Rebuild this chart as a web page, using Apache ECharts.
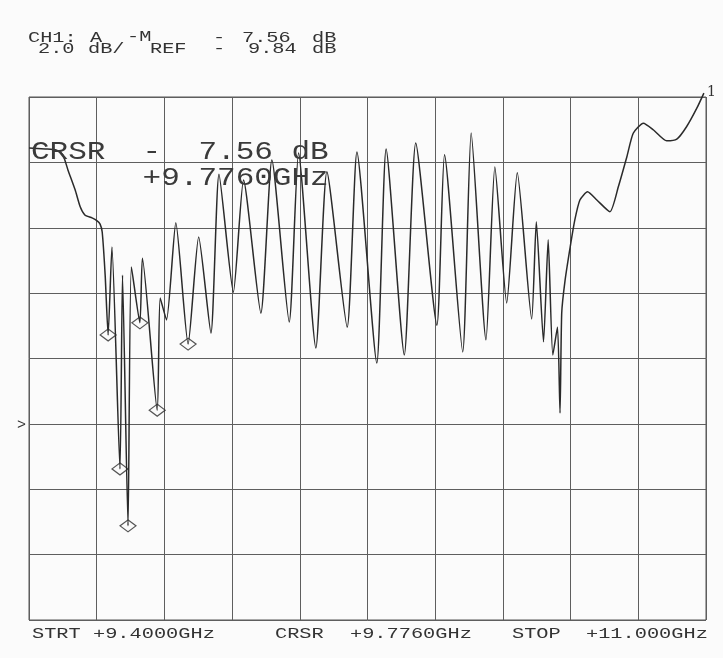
<!DOCTYPE html>
<html>
<head>
<meta charset="utf-8">
<title>CH1 A-M sweep 9.4 - 11.0 GHz</title>
<script src="https://cdn.jsdelivr.net/npm/echarts@6/dist/echarts.min.js"></script>
<style>
  html, body { margin: 0; padding: 0; background: #fbfbfb; }
  #chart { width: 723px; height: 658px; }
</style>
</head>
<body>
<div id="chart"></div>
<script>
// Swept response, channel 1 (A - M), 9.4 to 11.0 GHz, 2 dB per division.
const freqGHz = [
  9.400, 9.438, 9.464, 9.480, 9.492, 9.509, 9.521, 9.532, 9.549, 9.561,
  9.568, 9.573, 9.580, 9.587, 9.596, 9.615, 9.621, 9.634, 9.642, 9.662,
  9.668, 9.703, 9.710, 9.725, 9.747, 9.776, 9.801, 9.830, 9.849, 9.883,
  9.907, 9.948, 9.974, 10.015, 10.037, 10.078, 10.104, 10.152, 10.175, 10.222,
  10.244, 10.287, 10.314, 10.364, 10.382, 10.425, 10.445, 10.480, 10.501, 10.529,
  10.554, 10.588, 10.599, 10.616, 10.627, 10.638, 10.649, 10.655, 10.659, 10.667,
  10.679, 10.690, 10.702, 10.720, 10.742, 10.773, 10.793, 10.813, 10.828, 10.852,
  10.876, 10.907, 10.931, 10.954, 10.978, 10.995
];
const traceDb = [
  13.56, 13.53, 13.50, 13.35, 12.89, 12.28, 11.76, 11.51, 11.42, 11.33,
  11.23, 10.99, 9.67, 7.84, 10.53, 3.74, 9.67, 2.00, 9.92, 8.21,
  10.19, 5.54, 8.97, 8.30, 11.27, 7.56, 10.84, 7.90, 12.76, 9.15,
  12.58, 8.51, 13.19, 8.24, 13.41, 7.44, 12.83, 8.08, 13.44, 6.98,
  13.53, 7.23, 13.71, 8.14, 13.35, 7.32, 14.02, 7.69, 12.98, 8.82,
  12.80, 8.33, 11.30, 7.63, 10.75, 7.23, 8.08, 5.45, 8.51, 9.52,
  10.53, 11.36, 11.97, 12.22, 11.97, 11.61, 12.38, 13.29, 14.01, 14.32,
  14.11, 13.78, 13.83, 14.21, 14.77, 15.24
];

// Marker diamonds (the last one is the cursor)
const markerGHz = [9.587, 9.615, 9.634, 9.662, 9.703, 9.776];
const markerDb  = [7.84, 3.74, 2.00, 8.21, 5.54, 7.56];

// Display scale: top of screen and 2 dB per division over 8 divisions
const dbPerDiv = 2;
const topDb = 15.12;
const divisionsY = 8;
const divisionsX = 10;
const startGHz = 9.4;
const stopGHz = 11.0;

// Annotation texts
const headerLine1 = ['CH1:', 'A', '-M', '-', '7.56', 'dB'];
const headerLine2 = ['2.0', 'dB/', 'REF', '-', '9.84', 'dB'];
const cursorLine1 = 'CRSR  -  7.56 dB';
const cursorLine2 = '      +9.7760GHz';
const footer = ['STRT', '+9.4000GHz', 'CRSR', '+9.7760GHz', 'STOP', '+11.000GHz'];

const GRID = { left: 29, top: 97, width: 677, height: 523 };
const INK = '#333';
const MONO = '"Liberation Mono", "DejaVu Sans Mono", monospace';

function txt(str, x, y, size, sx, fill) {
  return {
    type: 'text',
    x: x, y: y,
    scaleX: sx || 1,
    z: 100,
    style: {
      text: str,
      font: size + 'px ' + MONO,
      fill: fill || INK,
      textAlign: 'left',
      textVerticalAlign: 'middle',
      verticalAlign: 'middle'
    }
  };
}

const h1x = [28, 90, 127, 213, 242, 312];
const h2x = [38, 88, 150, 213, 248, 312];
const fx = [32, 93, 275, 350, 512, 586];

const graphics = [];
headerLine1.forEach((s, i) => graphics.push(txt(s, h1x[i], i === 2 ? 37 : 38.5, 14, 1.45)));
headerLine2.forEach((s, i) => graphics.push(txt(s, h2x[i], 49.5, 14, 1.45)));
graphics.push(txt(cursorLine1, 31, 152, 25, 1.24, '#3a3a3a'));
graphics.push(txt(cursorLine2, 31, 178, 25, 1.24, '#3a3a3a'));
footer.forEach((s, i) => graphics.push(txt(s, fx[i], 634, 14, 1.45)));
graphics.push({
  type: 'text', x: 707, y: 92, z: 100,
  style: { text: '1', font: '14px "DejaVu Serif", "Liberation Serif", serif', fill: INK, textVerticalAlign: 'middle', verticalAlign: 'middle' }
});
// reference-level pointer at the left edge of the screen
graphics.push(txt('>', 17, 425, 15, 1));

const chart = echarts.init(document.getElementById('chart'), null, { renderer: 'canvas' });

const gridLine = { show: true, lineStyle: { color: '#5e5e5e', width: 1 } };

chart.setOption({
  backgroundColor: '#fbfbfb',
  animation: false,
  grid: Object.assign({ show: true, borderColor: '#555', borderWidth: 1, backgroundColor: 'transparent' }, GRID),
  xAxis: [
    { type: 'value', min: startGHz, max: stopGHz, show: false, splitLine: { show: false } },
    {
      type: 'value', min: 0, max: divisionsX, interval: 1, position: 'bottom',
      axisLine: { show: false }, axisTick: { show: false }, axisLabel: { show: false },
      splitLine: gridLine
    }
  ],
  yAxis: [
    { type: 'value', min: topDb - dbPerDiv * divisionsY, max: topDb, show: false, splitLine: { show: false } },
    {
      type: 'value', min: 0, max: divisionsY, interval: 1,
      axisLine: { show: false }, axisTick: { show: false }, axisLabel: { show: false },
      splitLine: gridLine
    }
  ],
  series: [
    {
      type: 'line',
      xAxisIndex: 0, yAxisIndex: 0,
      data: freqGHz.map((f, i) => [f, traceDb[i]]),
      showSymbol: false,
      smooth: 0.2,
      clip: false,
      lineStyle: { color: '#2a2a2a', width: 1.5 },
      z: 5
    },
    {
      type: 'scatter',
      xAxisIndex: 0, yAxisIndex: 0,
      data: markerGHz.map((f, i) => [f, markerDb[i]]),
      symbol: 'diamond',
      symbolSize: [16, 12],
      itemStyle: { color: 'rgba(0,0,0,0)', borderColor: '#2a2a2a', borderWidth: 1.2 },
      z: 6
    }
  ],
  graphic: graphics
});
</script>
</body>
</html>
